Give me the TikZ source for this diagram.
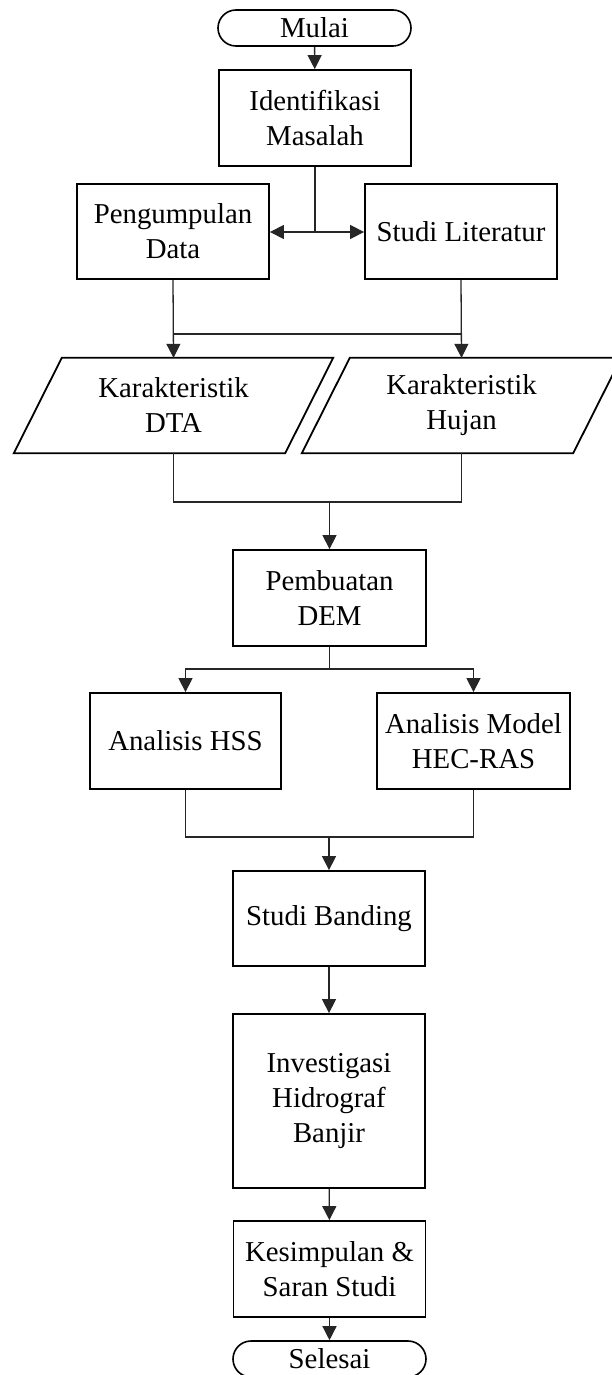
\documentclass[tikz,border=0pt]{standalone}
\usepackage{fontspec}
\setmainfont{Liberation Serif}
\usetikzlibrary{arrows.meta}
\begin{document}
\begin{tikzpicture}[x=1pt,y=-1pt,
  every node/.style={font=\fontsize{28.8}{35}\selectfont, align=center, inner sep=0pt},
  procbox/.style={draw=black, line width=1.8pt, minimum width=192pt, minimum height=96pt},
  termbox/.style={draw=black, line width=1.6pt, rounded corners=18pt, minimum width=193pt, minimum height=36pt},
  iobox/.style={minimum width=271pt, minimum height=95pt},
  iodraw/.style={draw=black, line width=1.8pt, line join=miter},
  conn/.style={draw=black!85, line width=1.3pt},
  arr/.style={conn, -{Triangle[length=14pt,width=14pt]}}
]
\useasboundingbox (0,0) rectangle (611,1375);

\node[termbox] (mulai) at (314.5,28) {Mulai};
\node[procbox] (ident) at (315,118) {Identifikasi\\Masalah};
\node[procbox, minimum height=95pt] (peng) at (173,231.5) {Pengumpulan\\Data};
\node[procbox, minimum height=95pt] (studi) at (461,231.5) {Studi Literatur};
\node[iobox] (dta) at (173.5,405.5) {Karakteristik\\DTA};
\node[iobox] (hujan) at (461.5,405.5) {Karakteristik\\Hujan};
\draw[iodraw] ([xshift=-24pt]dta.south west) -- ([xshift=-24pt]dta.south east) -- ([xshift=24pt]dta.north east) -- ([xshift=24pt]dta.north west) -- cycle;
\draw[iodraw] ([xshift=-24pt]hujan.south west) -- ([xshift=-24pt]hujan.south east) -- ([xshift=24pt]hujan.north east) -- ([xshift=24pt]hujan.north west) -- cycle;
\node[procbox, minimum width=193pt] (dem) at (329.5,598) {Pembuatan\\DEM};
\node[procbox, minimum width=191pt] (hss) at (185.5,741) {Analisis HSS};
\node[procbox, minimum width=193pt] (hec) at (473.5,741) {Analisis Model\\HEC-RAS};
\node[procbox, minimum height=95pt] (band) at (329,918.5) {Studi Banding};
\node[procbox, minimum height=174pt] (inv) at (329,1101) {Investigasi\\Hidrograf\\Banjir};
\node[procbox] (kes) at (329.5,1269) {Kesimpulan \&\\Saran Studi};
\node[termbox] (sel) at (329.5,1359) {Selesai};

\coordinate (h1) at (0,232);
\coordinate (h2) at (0,334);
\coordinate (h3) at (0,502);
\coordinate (h4) at (0,669);
\coordinate (h5) at (0,837);

\draw[arr] (mulai) -- (ident);
\coordinate (j1) at (ident.south |- h1);
\draw[conn] (ident.south) -- (j1);
\draw[arr] (j1) -- (peng.east |- j1);
\draw[arr] (j1) -- (studi.west |- j1);

\draw[arr] (peng.south) -- (dta.north);
\draw[arr] (studi.south) -- (hujan.north);
\draw[conn] (peng.south |- h2) -- (studi.south |- h2);

\draw[conn] (dta.south) -- (dta.south |- h3) -- (hujan.south |- h3) -- (hujan.south);
\draw[arr] (dem.north |- h3) -- (dem.north);

\draw[conn] (dem.south) -- (dem.south |- h4);
\draw[arr] (dem.south |- h4) -| (hss.north);
\draw[arr] (dem.south |- h4) -| (hec.north);

\draw[conn] (hss.south) -- (hss.south |- h5) -- (hec.south |- h5) -- (hec.south);
\draw[arr] (band.north |- h5) -- (band.north);

\draw[arr] (band) -- (inv);
\draw[arr] (inv) -- (kes);
\draw[arr] (kes) -- (sel);
\end{tikzpicture}
\end{document}
